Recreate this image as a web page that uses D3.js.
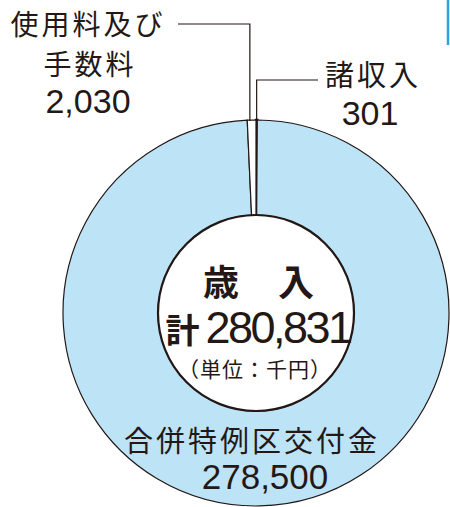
<!DOCTYPE html>
<html>
<head>
<meta charset="utf-8">
<script src="https://cdn.jsdelivr.net/npm/d3@7"></script>
<style>
  body { margin: 0; background: #fff; }
  svg { display: block; }
  text { fill: #231815; }
  .jp { font-family: "Noto Sans CJK JP", sans-serif; }
  .num { font-family: "Liberation Sans", Arial, sans-serif; }
</style>
</head>
<body>
<div id="chart"></div>
<script>
const W = 450, H = 507;

// data (単位：千円)
const categories = ["諸収入", "合併特例区交付金", "使用料及び手数料"];
const values = [301, 278500, 2030];
const valueLabels = ["301", "278,500", "2,030"];
const total = 280831;
const colors = ["#231815", "#bde3f7", "#ffffff"];

const cx = 256, cy = 313, outerR = 193, innerR = 98;
const ink = "#231815";

const svg = d3.select("#chart")
  .append("svg")
  .attr("width", W)
  .attr("height", H);

// blue rule at the top right edge of the page
svg.append("line")
  .attr("x1", 448).attr("x2", 448)
  .attr("y1", 0).attr("y2", 45)
  .attr("stroke", "#2aa4de")
  .attr("stroke-width", 2.5);

const pie = d3.pie().sort(null).value(d => d)
  .startAngle(0).endAngle(2 * Math.PI);
const arcs = pie(values);

const arc = d3.arc().innerRadius(innerR).outerRadius(outerR);

const g = svg.append("g")
  .attr("transform", `translate(${cx},${cy})`);

g.selectAll("path.slice")
  .data(arcs)
  .enter()
  .append("path")
  .attr("class", "slice")
  .attr("d", arc)
  .attr("fill", (d, i) => colors[i])
  .attr("stroke", ink)
  .attr("stroke-width", (d, i) => i === 0 ? 3 : 1.2)
  .attr("stroke-linejoin", "round");

// hole
g.append("circle")
  .attr("r", innerR)
  .attr("fill", "#fff")
  .attr("stroke", ink)
  .attr("stroke-width", 2.2);

// leader lines for the two small slices
function edgeX(d, f) {
  const a = d.startAngle + (d.endAngle - d.startAngle) * f;
  return cx + outerR * Math.sin(a);
}
const topY = cy - outerR;

// 使用料及び手数料
const xUse = edgeX(arcs[2], 0.3);
svg.append("path")
  .attr("d", `M${xUse},${topY + 1}V24H178`)
  .attr("fill", "none")
  .attr("stroke", ink)
  .attr("stroke-width", 1.2);

// 諸収入
const xMisc = edgeX(arcs[0], 0.5);
svg.append("path")
  .attr("d", `M${xMisc},${topY + 1}V80H318`)
  .attr("fill", "none")
  .attr("stroke", ink)
  .attr("stroke-width", 1.2);

// labels
function label(x, y, str, cls, size, extra) {
  const t = svg.append("text")
    .attr("class", cls)
    .attr("x", x).attr("y", y)
    .attr("text-anchor", "middle")
    .style("font-size", size + "px")
    .text(str);
  if (extra) extra(t);
  return t;
}

label(88, 35, "使用料及び", "jp", 28, t => t.style("letter-spacing", "3px"));
label(90, 75, "手数料", "jp", 28, t => t.style("letter-spacing", "3px"));
label(88, 113, valueLabels[2], "num", 34);

label(373, 86, categories[0], "jp", 29, t => t.style("letter-spacing", "3px"));
label(370, 125, valueLabels[0], "num", 34);

label(252, 452, categories[1], "jp", 29, t => t.style("letter-spacing", "3px"));
label(265, 489, valueLabels[1], "num", 35);

// centre
label(221, 296, "歳", "jp", 36, t => t.style("font-weight", 700));
label(296, 296, "入", "jp", 36, t => t.style("font-weight", 700));

const tot = svg.append("text")
  .attr("x", 258).attr("y", 343)
  .attr("text-anchor", "middle");
tot.append("tspan")
  .attr("class", "jp")
  .style("font-size", "34px")
  .style("font-weight", 700)
  .text("計");
tot.append("tspan")
  .attr("class", "num")
  .attr("dx", 6)
  .style("font-size", "45px")
  .style("letter-spacing", "-2.5px")
  .text(d3.format(",")(total));

label(255, 377, "（単位：千円）", "jp", 21, t => t.style("letter-spacing", "1px"));
</script>
</body>
</html>
